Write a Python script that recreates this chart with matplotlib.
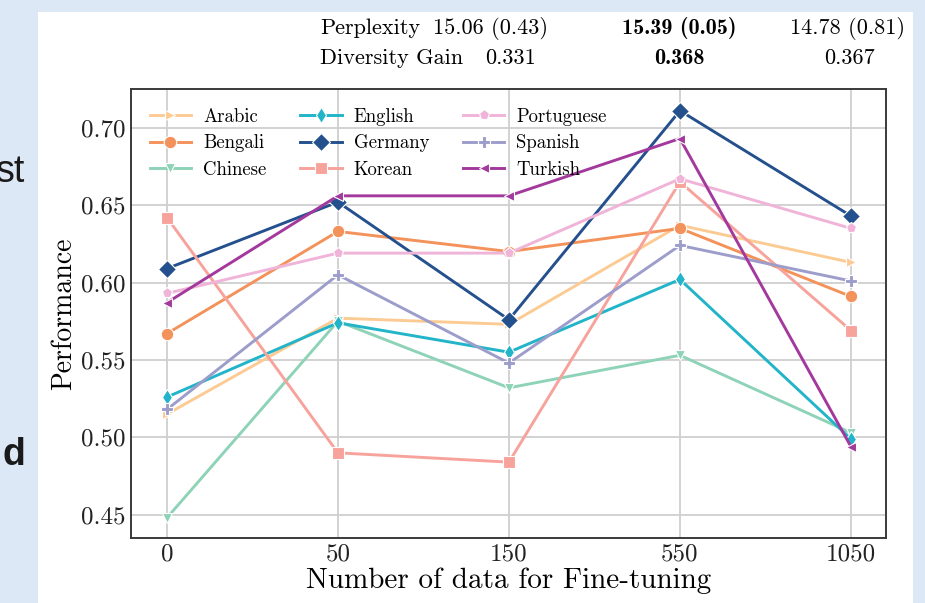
import matplotlib

matplotlib.use("Agg")
import matplotlib.pyplot as plt  # noqa: E402
from matplotlib.patches import Rectangle  # noqa: E402

# data
steps = ["0", "50", "150", "550", "1050"]
languages = ["Arabic", "Bengali", "Chinese", "English", "Germany",
             "Korean", "Portuguese", "Spanish", "Turkish"]
arabic = [0.515, 0.577, 0.573, 0.637, 0.613]
bengali = [0.567, 0.633, 0.620, 0.635, 0.591]
chinese = [0.448, 0.575, 0.532, 0.553, 0.503]
english = [0.526, 0.574, 0.555, 0.602, 0.499]
germany = [0.609, 0.652, 0.576, 0.711, 0.643]
korean = [0.642, 0.490, 0.484, 0.665, 0.569]
portuguese = [0.593, 0.619, 0.619, 0.667, 0.635]
spanish = [0.518, 0.605, 0.548, 0.624, 0.601]
turkish = [0.587, 0.656, 0.656, 0.693, 0.494]
values = [arabic, bengali, chinese, english, germany,
          korean, portuguese, spanish, turkish]

table_rows = ["Perplexity", "Diversity Gain"]
table_cells = [["15.06 (0.43)", "15.39 (0.05)", "14.78 (0.81)"],
               ["0.331", "0.368", "0.367"]]

COLORS = ["#fccb94", "#f3925a", "#8ed3b8", "#22b4c8", "#24508e",
          "#f7a39b", "#f0b4d9", "#9d9dcc", "#a3389d"]
MARKERS = [">", "o", "v", "d", "D", "s", "p", "P", "<"]
MSIZE = [7.5, 9, 7.5, 8, 9, 9, 8, 9, 7.5]

plt.rcParams["font.family"] = "cmr10"
plt.rcParams["mathtext.fontset"] = "cm"
plt.rcParams["axes.unicode_minus"] = False

W, H = 925, 603
fig = plt.figure(figsize=(W / 100, H / 100), dpi=100, facecolor="#dce8f5")
# white slide panel
fig.patches.append(Rectangle((38 / W, 0), (913 - 38) / W, (H - 12) / H,
                             transform=fig.transFigure, facecolor="white",
                             edgecolor="none", zorder=-5))

# clipped slide text on the left
fig.text(25 / W, 1 - 172 / H, "st", family="Liberation Sans", fontsize=27,
         ha="right", va="center", color="#1a1a1a")
fig.text(25 / W, 1 - 455 / H, "d", family="Liberation Sans", fontsize=27,
         fontweight="bold", ha="right", va="center", color="#1a1a1a")

ax = fig.add_axes([131 / W, 1 - 538 / H, (886 - 131) / W, (538 - 89) / H])
ax.set_zorder(2)
ax.set_facecolor("white")
x = list(range(len(steps)))
for lang, ys, c, m, s in zip(languages, values, COLORS, MARKERS, MSIZE):
    ax.plot(x, ys, color=c, marker=m, ms=s, lw=2.1, mec="white", mew=0.8,
            label=lang, zorder=3)

ax.set_xticks(x)
ax.set_xticklabels(steps)
ax.set_xlim(-0.21, 4.205)
ax.set_ylim(0.435, 0.725)
ticks = [0.45, 0.50, 0.55, 0.60, 0.65, 0.70]
ax.set_yticks(ticks)
ax.set_yticklabels([f"{v:.2f}" for v in ticks])
ax.tick_params(length=0, labelsize=18, pad=4, colors="#222222")
ax.grid(True, color="#cfcfcf", lw=1.3, zorder=0)
ax.set_axisbelow(True)
for sp in ax.spines.values():
    sp.set_color("#3a3a3a")
    sp.set_linewidth(1.4)
ax.set_xlabel("Number of data for Fine-tuning", fontsize=21, labelpad=1)
ax.set_ylabel("Performance", fontsize=20, labelpad=3)

ax.legend(loc="upper left", ncol=3, frameon=False, fontsize=13.5,
          handlelength=2.2, handletextpad=0.65, columnspacing=1.8,
          labelspacing=0.45, borderaxespad=0.0, bbox_to_anchor=(0.015, 0.975))

# table fragment above the plot
ty = [1 - 28 / H, 1 - 58 / H]
fs = 16
fig.text(320 / W, ty[0], table_rows[0], fontsize=fs, va="center")
fig.text(320 / W, ty[1], table_rows[1], fontsize=fs, va="center")
fig.text(433 / W, ty[0], table_cells[0][0], fontsize=fs, va="center")
fig.text(679 / W, ty[0], table_cells[0][1], fontsize=fs, va="center", ha="center",
         family="cmb10")
fig.text(905 / W, ty[0], table_cells[0][2], fontsize=fs, va="center", ha="right")
fig.text(485 / W, ty[1], table_cells[1][0], fontsize=fs, va="center")
fig.text(679 / W, ty[1], table_cells[1][1], fontsize=fs, va="center", ha="center",
         family="cmb10")
fig.text(875 / W, ty[1], table_cells[1][2], fontsize=fs, va="center", ha="right")

fig.savefig("out.png", dpi=100, facecolor=fig.get_facecolor())
